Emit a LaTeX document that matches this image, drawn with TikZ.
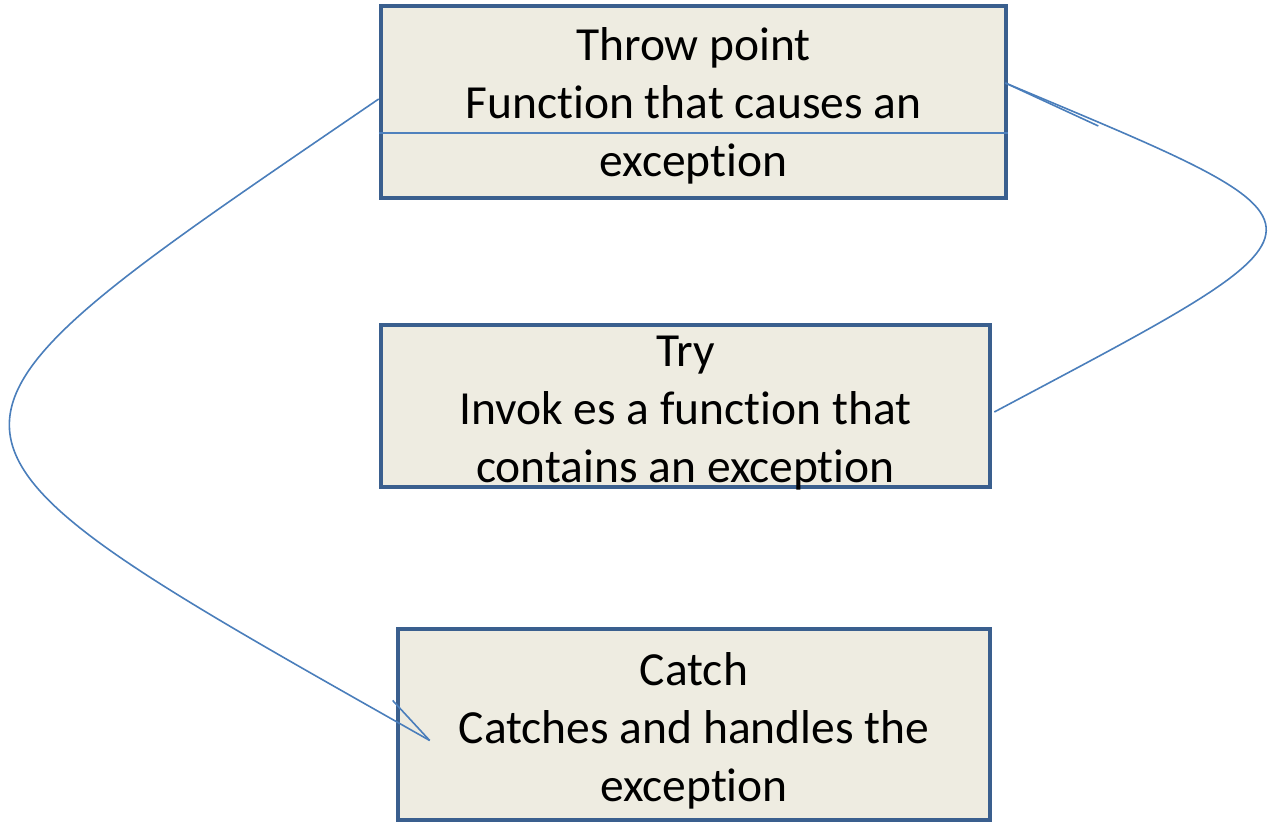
\documentclass[tikz,border=0pt]{standalone}
\usepackage{fontspec}
\setmainfont[Ligatures=NoCommon]{Carlito}
\usetikzlibrary{calc}
\definecolor{boxfill}{HTML}{EEECE1}
\definecolor{boxedge}{HTML}{3A5F8E}
\definecolor{linkblue}{HTML}{4A7EBB}
\definecolor{rulefill}{HTML}{4F81BD}
\tikzset{
  stage/.style={rectangle, draw=boxedge, line width=2.3pt, fill=boxfill, inner sep=0pt},
  caption/.style={align=center, inner sep=0pt, font=\fontsize{23.75pt}{29pt}\selectfont},
  link/.style={draw=linkblue, line width=0.8pt},
}
\begin{document}
\begin{tikzpicture}[x=0.5pt,y=-0.5pt]
\useasboundingbox (0,0) rectangle (1269,822);

% the three stages
\node[stage, minimum width=312.5pt, minimum height=96pt] (throw) at (693.5,102) {};
\node[stage, minimum width=304.5pt, minimum height=81pt] (try) at (685.5,406) {};
\node[stage, minimum width=296pt, minimum height=95.5pt] (catch) at (694,724.5) {};

% rule across the throw box
\draw[rulefill, line width=1pt] ($(throw.west)+(0,31)$) -- ($(throw.east)+(0,31)$);

% captions
\node[caption] (throwtxt) at ($(throw.center)+(0,4)$) {Throw point\\Function that causes an\\exception};
\node[caption] (trytxt) at ($(try.center)+(0,7)$) {Try\\Invok es a function that\\contains an exception};
\node[caption] (catchtxt) at ($(catch.center)+(0,6)$) {Catch\\Catches and handles the\\exception};

% end points of the connectors
\coordinate (throwout) at ($(throw.west)+(0,-3)$);
\coordinate (catchtip) at ($(catch.west)+(34,16)$);
\coordinate (tryout) at ($(try.east)+(2,6)$);
\coordinate (throwtip) at ($(throw.east)+(-3,-19)$);

% throw point -> catch
\draw[link] (throwout) .. controls (-120,440) and (-124,427) .. (catchtip);
\draw[link] (catchtip) -- ++(-37,-40);

% try -> throw point
\draw[link] (tryout) .. controls (1355,220) and (1355,230) .. (throwtip);
\draw[link] (throwtip) -- ++(93,43);
\end{tikzpicture}
\end{document}
